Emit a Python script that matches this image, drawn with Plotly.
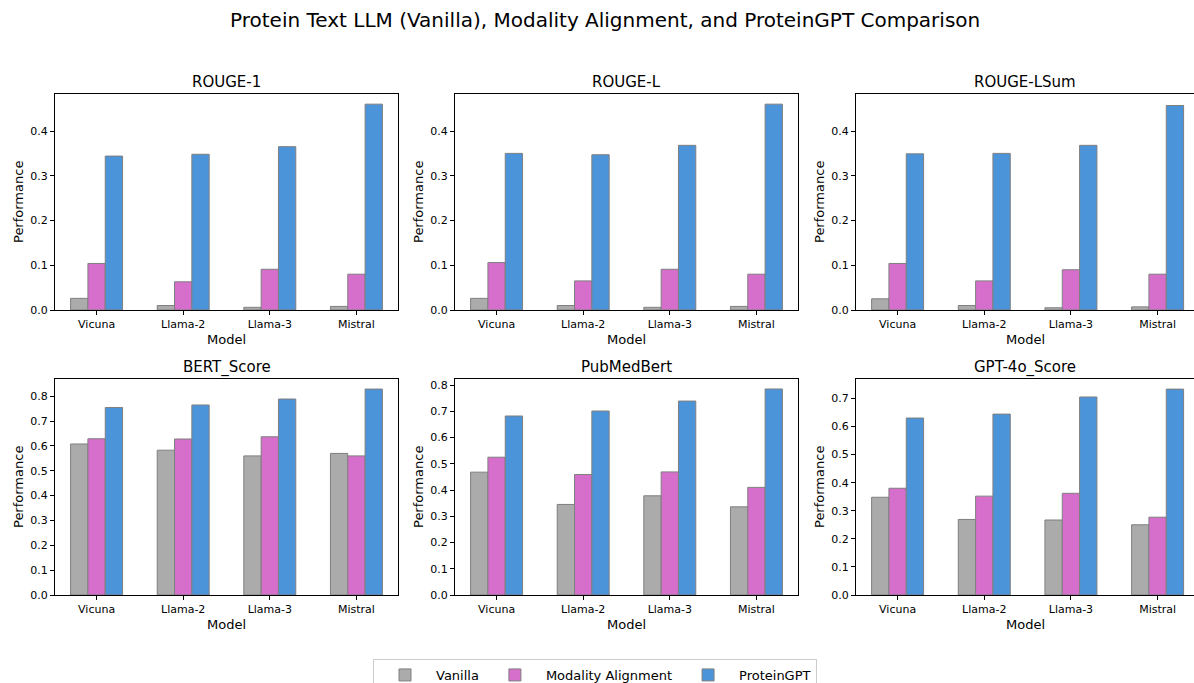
import plotly.graph_objects as go

models = ["Vicuna", "Llama-2", "Llama-3", "Mistral"]
metrics = ["ROUGE-1", "ROUGE-L", "ROUGE-LSum", "BERT_Score", "PubMedBert", "GPT-4o_Score"]
series_names = ["Vanilla", "Modality Alignment", "ProteinGPT"]

vanilla = {
    "ROUGE-1": [0.026, 0.010, 0.006, 0.008],
    "ROUGE-L": [0.026, 0.010, 0.006, 0.008],
    "ROUGE-LSum": [0.025, 0.010, 0.005, 0.007],
    "BERT_Score": [0.608, 0.583, 0.560, 0.570],
    "PubMedBert": [0.468, 0.345, 0.378, 0.336],
    "GPT-4o_Score": [0.348, 0.269, 0.267, 0.250],
}
modality_alignment = {
    "ROUGE-1": [0.104, 0.063, 0.091, 0.080],
    "ROUGE-L": [0.106, 0.065, 0.091, 0.080],
    "ROUGE-LSum": [0.104, 0.065, 0.090, 0.080],
    "BERT_Score": [0.629, 0.628, 0.637, 0.560],
    "PubMedBert": [0.525, 0.459, 0.469, 0.410],
    "GPT-4o_Score": [0.380, 0.352, 0.362, 0.277],
}
proteingpt = {
    "ROUGE-1": [0.344, 0.348, 0.365, 0.460],
    "ROUGE-L": [0.350, 0.347, 0.368, 0.460],
    "ROUGE-LSum": [0.349, 0.350, 0.368, 0.457],
    "BERT_Score": [0.755, 0.765, 0.789, 0.829],
    "PubMedBert": [0.682, 0.701, 0.739, 0.785],
    "GPT-4o_Score": [0.630, 0.644, 0.705, 0.733],
}
y_max = {
    "ROUGE-1": 0.4827, "ROUGE-L": 0.4827, "ROUGE-LSum": 0.4827,
    "BERT_Score": 0.8696, "PubMedBert": 0.823, "GPT-4o_Score": 0.769,
}

colors = ["#ABABAB", "#D66FCB", "#4C94D9"]
edge = "#7F7F7F"
W, H = 1194, 683

# pixel layout of the axes boxes
cols_px = [(55, 398), (455, 798), (856, 1194)]
rows_px = [(94, 310), (379, 595)]
x_ranges = [[-0.48, 3.48], [-0.48, 3.48], [-0.48, 3.42]]

font_family = "DejaVu Sans"
fig = go.Figure()
annotations = []

for i, m in enumerate(metrics):
    r, c = divmod(i, 3)
    ax = "" if i == 0 else str(i + 1)
    xref, yref = "x" + ax, "y" + ax
    for s, data in enumerate([vanilla, modality_alignment, proteingpt]):
        fig.add_trace(go.Bar(
            x=list(range(len(models))), y=data[m], name=series_names[s],
            marker=dict(color=colors[s], line=dict(color=edge, width=1)),
            xaxis=xref, yaxis=yref, showlegend=(i == 0), legendgroup=series_names[s],
            offsetgroup=str(s),
        ))
    x0, x1 = cols_px[c]
    y0, y1 = rows_px[r]
    dom_x = [x0 / W, x1 / W]
    dom_y = [1 - y1 / H, 1 - y0 / H]
    common = dict(showline=True, linecolor="black", linewidth=1, mirror=True,
                  ticks="outside", ticklen=4, tickcolor="black", showgrid=False,
                  zeroline=False, automargin=False,
                  tickfont=dict(size=11, color="black", family=font_family))
    fig.update_layout(**{
        "xaxis" + ax: dict(domain=dom_x, range=x_ranges[c], tickvals=list(range(len(models))),
                           ticktext=models, anchor=yref, **common),
        "yaxis" + ax: dict(domain=dom_y, range=[0, y_max[m]], dtick=0.1, tickformat=".1f",
                           anchor=xref, **common),
    })
    cx = (x0 + min(x1, x0 + 343)) / 2
    annotations.append(dict(text=m, x=cx / W, y=1 - (y0 - 12) / H, xref="paper", yref="paper",
                            showarrow=False, font=dict(size=15, color="black", family=font_family),
                            xanchor="center", yanchor="middle"))
    annotations.append(dict(text="Model", x=cx / W, y=1 - (y1 + 29) / H, xref="paper", yref="paper",
                            showarrow=False, font=dict(size=13, color="black", family=font_family),
                            xanchor="center", yanchor="middle"))
    annotations.append(dict(text="Performance", x=(x0 - 37) / W, y=1 - (y0 + y1) / 2 / H,
                            xref="paper", yref="paper", showarrow=False, textangle=-90,
                            font=dict(size=13, color="black", family=font_family),
                            xanchor="center", yanchor="middle"))

annotations.append(dict(text="Protein Text LLM (Vanilla), Modality Alignment, and ProteinGPT Comparison",
                        x=605 / W, y=1 - 20 / H, xref="paper", yref="paper", showarrow=False,
                        font=dict(size=20, color="black", family=font_family),
                        xanchor="center", yanchor="middle"))

fig.update_layout(
    width=W, height=H, margin=dict(l=0, r=0, t=0, b=0, autoexpand=False),
    paper_bgcolor="white", plot_bgcolor="white",
    barmode="group", bargap=0.4, bargroupgap=0,
    annotations=annotations,
    font=dict(family=font_family, color="black"),
    legend=dict(orientation="h", x=595 / W, y=1 - 659 / H, xanchor="center", yanchor="top",
                bordercolor="#CCCCCC", borderwidth=1, font=dict(size=13, color="black"),
                itemwidth=52, traceorder="normal"),
)

fig.write_html("out.html", config={"displayModeBar": False},
               post_script="document.body.style.margin='0px';")
